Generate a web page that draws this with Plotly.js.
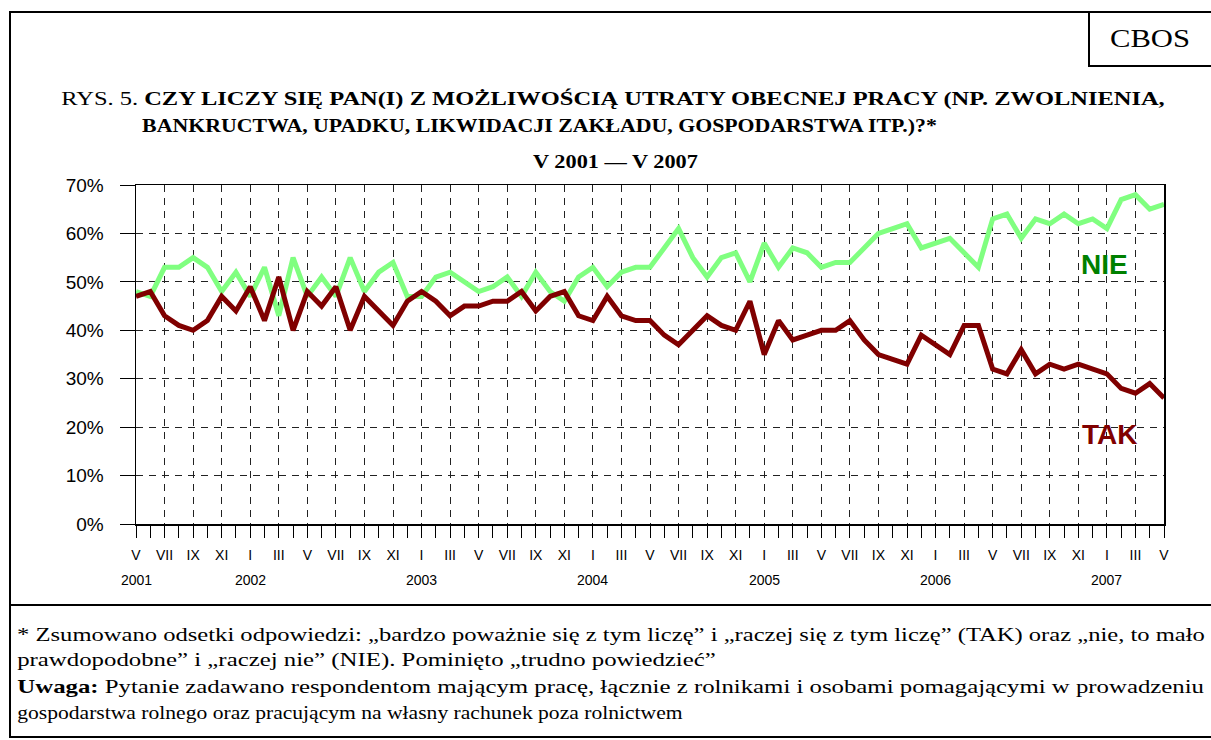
<!DOCTYPE html>
<html>
<head>
<meta charset="utf-8">
<script src="https://cdn.plot.ly/plotly-3.0.1.min.js"></script>
<style>
  html, body { margin: 0; padding: 0; background: #fff; }
  #chart { width: 1211px; height: 740px; }
</style>
</head>
<body>
<div id="chart"></div>
<script>
// ---- DATA ----
const months = [
  'V 2001','VI 2001','VII 2001','VIII 2001','IX 2001','X 2001','XI 2001','XII 2001',
  'I 2002','II 2002','III 2002','IV 2002','V 2002','VI 2002','VII 2002','VIII 2002','IX 2002','X 2002','XI 2002','XII 2002',
  'I 2003','II 2003','III 2003','IV 2003','V 2003','VI 2003','VII 2003','VIII 2003','IX 2003','X 2003','XI 2003','XII 2003',
  'I 2004','II 2004','III 2004','IV 2004','V 2004','VI 2004','VII 2004','VIII 2004','IX 2004','X 2004','XI 2004','XII 2004',
  'I 2005','II 2005','III 2005','IV 2005','V 2005','VI 2005','VII 2005','VIII 2005','IX 2005','X 2005','XI 2005','XII 2005',
  'I 2006','II 2006','III 2006','IV 2006','V 2006','VI 2006','VII 2006','VIII 2006','IX 2006','X 2006','XI 2006','XII 2006',
  'I 2007','II 2007','III 2007','IV 2007','V 2007'
];

const nie = [
  48,47,53,53,55,53,48,52,
  47,53,43,55,47,51,47,55,48,52,54,47,
  47,51,52,50,48,49,51,47,52,48,46,51,
  53,49,52,53,53,57,61,55,51,55,56,50,
  58,53,57,56,53,54,54,57,60,61,62,57,
  58,59,56,53,63,64,59,63,62,64,62,63,
  61,67,68,65,66
];

const tak = [
  47,48,43,41,40,42,47,44,
  49,42,51,40,48,45,49,40,47,44,41,46,
  48,46,43,45,45,46,46,48,44,47,48,43,
  42,47,43,42,42,39,37,40,43,41,40,46,
  35,42,38,39,40,40,42,38,35,34,33,39,
  37,35,41,41,32,31,36,31,33,32,33,32,
  31,28,27,29,26
];

const tickLabels = [
  'V','VII','IX','XI',
  'I','III','V','VII','IX','XI',
  'I','III','V','VII','IX','XI',
  'I','III','V','VII','IX','XI',
  'I','III','V','VII','IX','XI',
  'I','III','V','VII','IX','XI',
  'I','III','V'
];

const yearLabels = ['2001','2002','2003','2004','2005','2006','2007'];
const yearAnchors = ['V 2001','I 2002','I 2003','I 2004','I 2005','I 2006','I 2007'];

const seriesNames = ['NIE','TAK'];

// ---- LAYOUT GEOMETRY ----
const W = 1211, H = 740;
const M = {l: 136, r: 47, t: 185, b: 216};
const PW = W - M.l - M.r, PH = H - M.t - M.b;
const px = x => (x - M.l) / PW;
const py = y => (H - M.b - y) / PH;

const xIdx = months.map((_, i) => i);
const tickVals = xIdx.filter(i => i % 2 === 0);

const serif = 'Liberation Serif, Times New Roman, serif';
const sans = 'Liberation Sans, Arial, sans-serif';

const traces = [
  {x: xIdx, y: nie, name: seriesNames[0], type: 'scatter', mode: 'lines',
   line: {color: '#80FF80', width: 5}, hoverinfo: 'x+y'},
  {x: xIdx, y: tak, name: seriesNames[1], type: 'scatter', mode: 'lines',
   line: {color: '#800000', width: 5}, hoverinfo: 'x+y'}
];

const ann = [];
const stretch = [];   // horizontal stretch of serif text (reference glyphs are wider)
function txt(text, x, y, opts, fit) {
  ann.push(Object.assign({text: text, xref: 'paper', yref: 'paper', x: px(x), y: py(y),
    showarrow: false, xanchor: 'left', yanchor: 'middle',
    font: {family: serif, size: 18, color: '#000'}}, opts || {}));
  stretch.push(fit || null);
}
txt('RYS. 5. <b>CZY LICZY SIĘ PAN(I) Z MOŻLIWOŚCIĄ UTRATY OBECNEJ PRACY (NP. ZWOLNIENIA,</b>', 61, 99, null, {left: 61, right: 1165});
txt('<b>BANKRUCTWA, UPADKU, LIKWIDACJI ZAKŁADU, GOSPODARSTWA ITP.)?*</b>', 142, 126, null, {left: 142, right: 937});
txt('<b>V 2001 — V 2007</b>', 533, 162, null, {left: 533, right: 698});
txt('CBOS', 1150, 39, {xanchor: 'center', font: {family: serif, size: 25, color: '#000'}}, {left: 1110, right: 1190});

const fn = {family: serif, size: 19, color: '#000'};
txt('* Zsumowano odsetki odpowiedzi: „bardzo poważnie się z tym liczę” i „raczej się z tym liczę” (TAK) oraz „nie, to mało', 17, 635, {font: fn}, {left: 17, right: 1205});
txt('prawdopodobne” i „raczej nie” (NIE). Pominięto „trudno powiedzieć”', 17, 660, {font: fn}, {left: 17, right: 716});
txt('<b>Uwaga:</b> Pytanie zadawano respondentom mającym pracę, łącznie z rolnikami i osobami pomagającymi w prowadzeniu', 17, 686, {font: fn}, {left: 17, right: 1205});
txt('gospodarstwa rolnego oraz pracującym na własny rachunek poza rolnictwem', 17, 712, {font: fn}, {left: 17, right: 683});

// series labels
txt('<b>' + seriesNames[0] + '</b>', 1104, 264, {xanchor: 'center', font: {family: sans, size: 28, color: '#008000'}});
txt('<b>' + seriesNames[1] + '</b>', 1109, 434, {xanchor: 'center', font: {family: sans, size: 28, color: '#800000'}});

// year labels under the axis
yearLabels.forEach((yl, i) => {
  ann.push({text: yl, xref: 'x', yref: 'paper', x: months.indexOf(yearAnchors[i]), y: py(580),
    showarrow: false, xanchor: 'center', yanchor: 'middle',
    font: {family: sans, size: 14, color: '#000'}});
  stretch.push(null);
});

const shapes = [
  {type: 'rect', xref: 'paper', yref: 'paper', x0: px(10), x1: px(1214), y0: py(12), y1: py(737),
   line: {color: '#000', width: 2}, fillcolor: 'rgba(0,0,0,0)', layer: 'below'},
  {type: 'line', xref: 'paper', yref: 'paper', x0: px(10), x1: px(1214), y0: py(605), y1: py(605),
   line: {color: '#000', width: 2}},
  {type: 'rect', xref: 'paper', yref: 'paper', x0: px(1089), x1: px(1214), y0: py(12), y1: py(66),
   line: {color: '#000', width: 2}, fillcolor: 'rgba(0,0,0,0)'}
];

const layout = {
  width: W, height: H,
  margin: M,
  paper_bgcolor: '#fff', plot_bgcolor: '#fff',
  showlegend: false,
  xaxis: {
    range: [0, 72], zeroline: false,
    tickmode: 'array', tickvals: tickVals, ticktext: tickLabels,
    ticks: 'outside', ticklen: 12, tickcolor: '#000', tickwidth: 1,
    ticklabelstandoff: 6,
    tickfont: {family: sans, size: 14, color: '#000'},
    showgrid: true, gridcolor: '#222', gridwidth: 1, griddash: '7px,6px',
    showline: true, linecolor: '#000', linewidth: 1.5, mirror: true,
    minor: {tickmode: 'linear', tick0: 0, dtick: 1, ticks: 'outside', ticklen: 12,
            tickcolor: '#000', tickwidth: 1, showgrid: false}
  },
  yaxis: {
    range: [0, 70], dtick: 10, ticksuffix: '%', zeroline: false,
    ticks: 'outside', ticklen: 15, tickcolor: '#000', tickwidth: 1,
    ticklabelstandoff: 12,
    tickfont: {family: sans, size: 19, color: '#000'},
    showgrid: true, gridcolor: '#222', gridwidth: 1, griddash: '7px,6px',
    showline: true, linecolor: '#000', linewidth: 1.5, mirror: true
  },
  annotations: ann,
  shapes: shapes
};

Plotly.newPlot('chart', traces, layout, {displayModeBar: false, staticPlot: true}).then(gd => {
  // widen serif texts horizontally so they span the same extent as in the reference
  const svgRoot = gd.querySelector('.main-svg');
  stretch.forEach((fit, i) => {
    if (!fit) return;
    const t = gd.querySelector('.annotation[data-index="' + i + '"] text.annotation-text');
    if (!t) return;
    const bb = t.getBBox();
    const ctm = t.getCTM();
    const rootCtm = t.ownerSVGElement.getCTM ? t.ownerSVGElement.getScreenCTM() : null;
    // page-space left of text (local bbox -> screen)
    const sc = t.getScreenCTM();
    const svgSc = t.ownerSVGElement.getScreenCTM();
    const offX = sc.e - svgSc.e;   // translation of local coords into svg coords (no scaling)
    const f = (fit.right - fit.left) / bb.width;
    // keep the local left edge bb.x, then shift so it lands at fit.left
    const targetLocalLeft = fit.left - offX;
    const prev = t.getAttribute('transform') || '';
    t.setAttribute('transform', prev + ' translate(' + targetLocalLeft + ',0) scale(' + f + ',1) translate(' + (-bb.x) + ',0)');
  });
});
</script>
</body>
</html>
